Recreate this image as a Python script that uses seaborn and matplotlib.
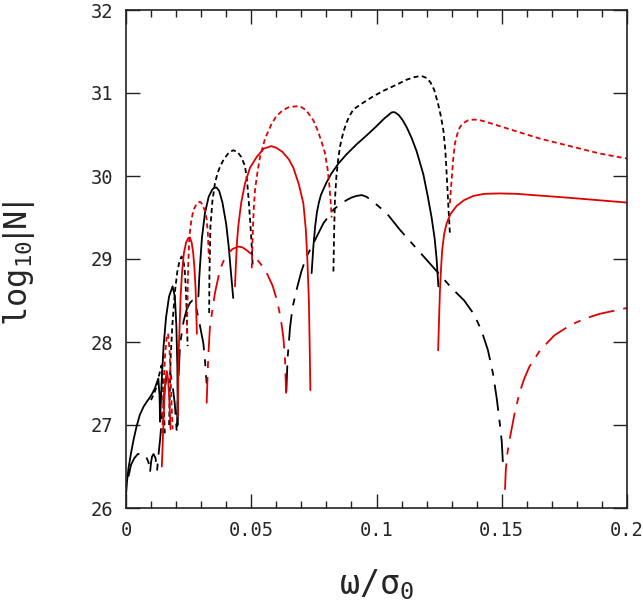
import numpy as np
import pandas as pd
import matplotlib
matplotlib.use('Agg')
import matplotlib.pyplot as plt
import seaborn as sns

nan = np.nan

# values, NaN separates the lobes of one curve
k_solid_x = [0.0, 0.0004, 0.0010, 0.0020, 0.0030, 0.0042, 0.0055, 0.0070, 0.0083, 0.0095, 0.0105,
             0.0115, 0.0122, 0.0129, 0.0134, 0.0136,
             0.0142, 0.0150, 0.0160, 0.0172, 0.0186, 0.0195, 0.0201, 0.0205, 0.0207,
             nan,
             0.0289, 0.0292, 0.0295, 0.0303, 0.0315, 0.0330, 0.0345, 0.0355, 0.0362, 0.0372, 0.0385,
             0.0400, 0.0410, 0.0420, 0.0428,
             nan,
             0.0741, 0.0748, 0.0755, 0.0762, 0.0770, 0.0778, 0.0788, 0.0800, 0.0820, 0.0848, 0.0880,
             0.0920, 0.0961, 0.1000, 0.1030, 0.1050, 0.1060, 0.1067, 0.1075, 0.1090, 0.1105, 0.1120,
             0.1140, 0.1160, 0.1187, 0.1205, 0.1220, 0.1232, 0.1240, 0.1247]
k_solid_y = [26.15, 26.32, 26.48, 26.66, 26.82, 26.98, 27.12, 27.22, 27.28, 27.33, 27.38,
             27.44, 27.50, 27.56, 27.35, 27.04,
             27.5, 27.95, 28.3, 28.55, 28.67, 28.55, 28.2, 27.7, 27.0,
             nan,
             28.55, 28.75, 28.9, 29.25, 29.55, 29.75, 29.84, 29.86, 29.86, 29.82, 29.68,
             29.42, 29.15, 28.8, 28.53,
             nan,
             28.83, 29.15, 29.39, 29.56, 29.68, 29.77, 29.84, 29.92, 30.03, 30.15, 30.26,
             30.38, 30.49, 30.6, 30.69, 30.74, 30.765, 30.77, 30.765, 30.73, 30.67, 30.59,
             30.46, 30.3, 30.02, 29.75, 29.5, 29.25, 29.0, 28.67]

k_dot_x = [0.0100, 0.0112, 0.0122, 0.0132, 0.0142, 0.0147, 0.0151, 0.0155,
           nan,
           0.0172, 0.0178, 0.0185, 0.0195, 0.0205, 0.0214, 0.0222, 0.0229, 0.0234, 0.0238, 0.0242, 0.0246,
           nan,
           0.0332, 0.0333, 0.0337, 0.0345, 0.0355, 0.0365, 0.0375, 0.0390, 0.0410, 0.0428, 0.0445,
           0.0460, 0.0475, 0.0483, 0.0490, 0.0497, 0.0502, 0.0506,
           nan,
           0.0828, 0.0831, 0.0834, 0.0840, 0.0847, 0.0854, 0.0862, 0.0870, 0.0880, 0.0890, 0.0907,
           0.0940, 0.0987, 0.1030, 0.1080, 0.1120, 0.1150, 0.1167, 0.1185, 0.1200, 0.1215, 0.1230,
           0.1245, 0.1257, 0.1267, 0.1275, 0.1280, 0.1287, 0.1293]
k_dot_y = [27.30, 27.38, 27.46, 27.60, 27.72, 27.55, 27.2, 26.9,
           nan,
           27.0, 27.8, 28.2, 28.6, 28.85, 28.98, 29.03, 28.98, 28.88, 28.7, 28.39, 27.95,
           nan,
           28.35, 28.8, 29.39, 29.7, 29.91, 30.03, 30.11, 30.2, 30.28, 30.31, 30.29,
           30.23, 30.12, 29.95, 29.7, 29.4, 29.15, 28.9,
           nan,
           28.85, 29.35, 29.71, 30.0, 30.2, 30.35, 30.46, 30.55, 30.64, 30.71, 30.8,
           30.87, 30.96, 31.03, 31.1, 31.16, 31.19, 31.2, 31.2, 31.18, 31.13, 31.04,
           30.88, 30.72, 30.55, 30.3, 30.03, 29.63, 29.31]

k_dashdot_x = [0.0010, 0.0020, 0.0033, 0.0047, 0.0065, 0.0080, 0.0090, 0.0096,
               0.0100, 0.0104, 0.0110, 0.0118, 0.0124,
               0.0130, 0.0136, 0.0145, 0.0155, 0.0165, 0.0175, 0.0185, 0.0195, 0.0203,
               0.0207, 0.0216, 0.0230, 0.0242, 0.0255, 0.0265, 0.0275, 0.0282, 0.0295, 0.0309, 0.0316,
               0.0322,
               nan,
               0.0640, 0.0645, 0.0655, 0.0665, 0.0681, 0.0700, 0.0721, 0.0750, 0.0788, 0.0830, 0.0860,
               0.0881, 0.0900, 0.0920, 0.0941, 0.0960, 0.0987, 0.1041, 0.1094, 0.1147, 0.1200, 0.1253,
               0.1300, 0.1350, 0.1390, 0.1420, 0.1445, 0.1465, 0.1480, 0.1493, 0.1500, 0.1505]
k_dashdot_y = [26.38, 26.52, 26.60, 26.65, 26.66, 26.62, 26.55, 26.43,
               26.55, 26.62, 26.65, 26.60, 26.45,
               26.65, 26.82, 27.15, 27.45, 27.62, 27.65, 27.5, 27.25, 26.9,
               27.4, 27.98, 28.25, 28.39, 28.47, 28.5, 28.46, 28.39, 28.2, 27.98, 27.75,
               27.5,
               nan,
               27.4, 27.8, 28.18, 28.42, 28.63, 28.85, 29.03, 29.2, 29.43, 29.6, 29.67,
               29.71, 29.74, 29.76, 29.77, 29.75, 29.69, 29.55, 29.35, 29.17, 28.99, 28.81,
               28.65, 28.5, 28.33, 28.13, 27.9, 27.62, 27.32, 27.0, 26.8, 26.52]

r_solid_x = [0.0143, 0.0148, 0.0153, 0.0158, 0.0163, 0.0168, 0.0173, 0.0178,
             nan,
             0.0207, 0.0209, 0.0213, 0.0218, 0.0224, 0.0231, 0.0240, 0.0248, 0.0255, 0.0262, 0.0268,
             0.0273, 0.0278, 0.0283,
             nan,
             0.0435, 0.0439, 0.0443, 0.0448, 0.0460, 0.0475, 0.0495, 0.0522, 0.0550, 0.0580, 0.0600,
             0.0625, 0.0650, 0.0668, 0.0690, 0.0708, 0.0718, 0.0724, 0.0730, 0.0733, 0.0736,
             nan,
             0.1246, 0.1250, 0.1253, 0.1257, 0.1262, 0.1270, 0.1280, 0.1295, 0.1320, 0.1350, 0.1387,
             0.1430, 0.1493, 0.1560, 0.1626, 0.1759, 0.2000]
r_solid_y = [26.5, 26.9, 27.3, 27.55, 27.65, 27.55, 27.3, 26.95,
             nan,
             27.1, 27.78, 28.1, 28.55, 28.85, 29.07, 29.2, 29.25, 29.26, 29.2, 29.08,
             28.9, 28.63, 28.1,
             nan,
             28.67, 28.95, 29.2, 29.39, 29.68, 29.91, 30.1, 30.23, 30.33, 30.36, 30.34,
             30.29, 30.2, 30.1, 29.9, 29.67, 29.35, 28.99, 28.5, 28.0, 27.42,
             nan,
             27.9, 28.3, 28.6, 28.85, 29.1, 29.3, 29.43, 29.54, 29.64, 29.71, 29.76,
             29.785, 29.79, 29.785, 29.77, 29.74, 29.68]

r_dot_x = [0.0145, 0.0150, 0.0155, 0.0162, 0.0168, 0.0174, 0.0180, 0.0186,
           nan,
           0.0243, 0.0245, 0.0248, 0.0253, 0.0260, 0.0269, 0.0283, 0.0295, 0.0305, 0.0315, 0.0322,
           0.0327, 0.0331,
           nan,
           0.0502, 0.0506, 0.0510, 0.0515, 0.0525, 0.0535, 0.0555, 0.0580, 0.0600, 0.0625, 0.0650,
           0.0681, 0.0700, 0.0720, 0.0748, 0.0765, 0.0780, 0.0794, 0.0805, 0.0813, 0.0818, 0.0821,
           nan,
           0.1293, 0.1297, 0.1300, 0.1306, 0.1313, 0.1322, 0.1333, 0.1348, 0.1365, 0.1387, 0.1410,
           0.1440, 0.1546, 0.1653, 0.1759, 0.1892, 0.2000]
r_dot_y = [26.9, 27.4, 27.8, 28.05, 28.1, 27.9, 27.4, 26.95,
           nan,
           28.1, 28.4, 28.9, 29.27, 29.45, 29.59, 29.67, 29.69, 29.66, 29.58, 29.48,
           29.3, 29.0,
           nan,
           28.89, 29.31, 29.6, 29.83, 30.05, 30.23, 30.45, 30.62, 30.72, 30.79, 30.83,
           30.84, 30.83, 30.79, 30.67, 30.55, 30.42, 30.28, 30.08, 29.85, 29.65, 29.5,
           nan,
           29.67, 29.85, 29.95, 30.2, 30.39, 30.5, 30.59, 30.64, 30.67, 30.68, 30.675,
           30.65, 30.55, 30.45, 30.37, 30.27, 30.21]

r_dashdot_x = [0.0322, 0.0328, 0.0335, 0.0355, 0.0375, 0.0390, 0.0408, 0.0425, 0.0448, 0.0465,
               0.0480, 0.0500, 0.0522, 0.0545, 0.0562, 0.0585, 0.0602, 0.0617, 0.0628, 0.0635, 0.0639,
               nan,
               0.1513, 0.1516, 0.1522, 0.1533, 0.1550, 0.1570, 0.1590, 0.1610, 0.1653, 0.1710, 0.1772,
               0.1830, 0.1892, 0.2000]
r_dashdot_y = [27.26, 27.8, 28.18, 28.59, 28.87, 28.98, 29.07, 29.12, 29.15, 29.14,
               29.11, 29.06, 29.0, 28.91, 28.83, 28.68, 28.51, 28.3, 28.06, 27.78, 27.38,
               nan,
               26.22, 26.45, 26.65, 26.85, 27.12, 27.38, 27.56, 27.7, 27.9, 28.08, 28.2,
               28.28, 28.34, 28.41]

x_ticks = [0, 0.05, 0.1, 0.15, 0.2]
x_tick_labels = ['0', '0.05', '0.1', '0.15', '0.2']
y_ticks = [26, 27, 28, 29, 30, 31, 32]

RED = '#e00000'
SHORT = (0, (3.6, 2.4))
DASHDOT = (0, (19, 6.5, 5, 6.5))

curves = [
    ('k_solid', k_solid_x, k_solid_y, 'black', '-'),
    ('k_dot', k_dot_x, k_dot_y, 'black', SHORT),
    ('k_dashdot', k_dashdot_x, k_dashdot_y, 'black', DASHDOT),
    ('r_solid', r_solid_x, r_solid_y, RED, '-'),
    ('r_dot', r_dot_x, r_dot_y, RED, SHORT),
    ('r_dashdot', r_dashdot_x, r_dashdot_y, RED, DASHDOT),
]


def to_frame(xs, ys):
    df = pd.DataFrame({'x': xs, 'y': ys})
    df['seg'] = df['x'].isna().cumsum()
    return df.dropna().reset_index(drop=True)


sns.set_style('ticks')
plt.rcParams['font.family'] = ['DejaVu Sans Mono', 'DejaVu Sans']
plt.rcParams['mathtext.fontset'] = 'custom'
plt.rcParams['mathtext.rm'] = 'DejaVu Sans Mono'
plt.rcParams['mathtext.it'] = 'DejaVu Sans Mono'
plt.rcParams['mathtext.sf'] = 'DejaVu Sans'
plt.rcParams['lines.scale_dashes'] = False

fig = plt.figure(figsize=(6.43, 6.11), dpi=100)
ax = fig.add_axes([126 / 643, 103 / 611, 501 / 643, 498 / 611])

for name, xs, ys, color, ls in curves:
    sns.lineplot(data=to_frame(xs, ys), x='x', y='y', units='seg', estimator=None,
                 sort=False, color=color, linestyle=ls, linewidth=1.3, ax=ax, legend=False)

ax.set_xlim(0, 0.2)
ax.set_ylim(26, 32)
ax.set_xticks(x_ticks)
ax.set_xticklabels(x_tick_labels)
ax.set_xticks(np.arange(0, 0.2001, 0.01), minor=True)
ax.set_yticks(y_ticks)

for s in ax.spines.values():
    s.set_linewidth(1.2)
    s.set_color('#222222')
ax.tick_params(which='both', direction='in', top=True, right=True, width=1.0, color='#222222')
ax.tick_params(which='major', length=10, pad=9, labelsize=13.5)
ax.tick_params(which='minor', length=5)

ax.set_xlabel(r'$\omega/\sigma_0$', fontsize=24)
ax.set_ylabel(r'$\mathrm{log}_{10}\mathsf{|}\mathrm{N}\mathsf{|}$', fontsize=23)
ax.xaxis.set_label_coords(0.5, -0.12)
ax.xaxis.label.set_va('top')
ax.yaxis.set_label_coords(-0.178, 0.49)

fig.savefig('out.png', dpi=100)
